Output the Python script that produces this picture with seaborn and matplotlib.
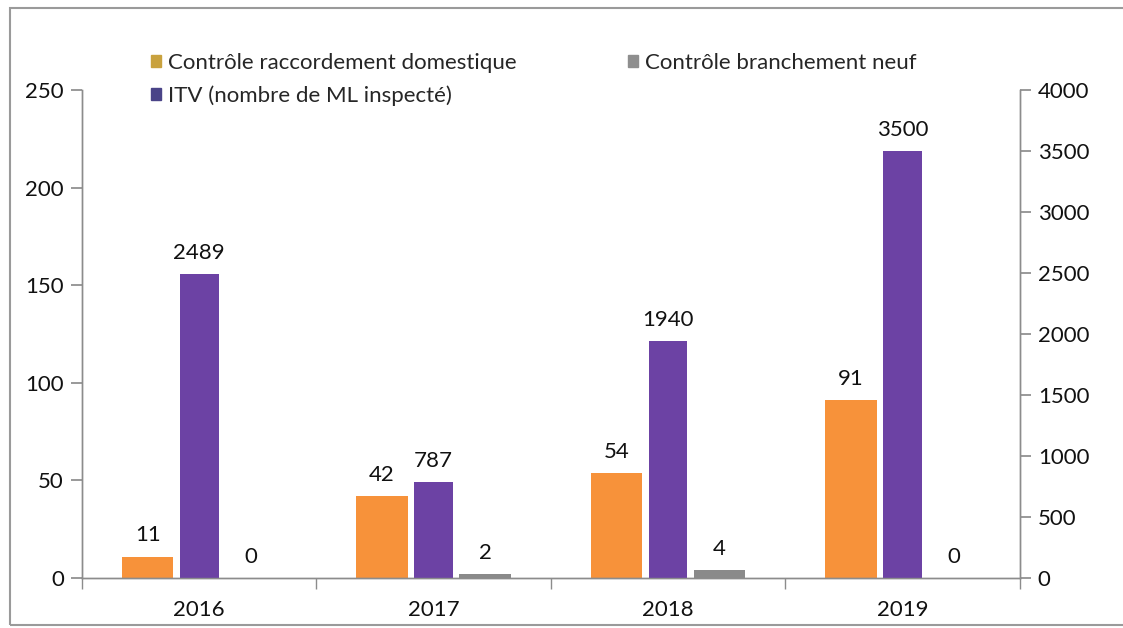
import numpy as np
import pandas as pd
import seaborn as sns
import matplotlib.pyplot as plt
from matplotlib.patches import Patch, Rectangle

# ---- data ----
years = ["2016", "2017", "2018", "2019"]
raccordement = [11, 42, 54, 91]        # left axis
branchement = [0, 2, 4, 0]             # left axis
itv = [2489, 787, 1940, 3500]          # right axis (ML inspected)

lbl_racc = "Contrôle raccordement domestique"
lbl_branch = "Contrôle branchement neuf"
lbl_itv = "ITV (nombre de ML inspecté)"

c_orange = "#F7923A"
c_purple = "#6C42A4"
c_gray = "#8A8A8A"

sns.set_theme(style="white")
plt.rcParams["font.family"] = ["Lato", "DejaVu Sans"]
FS = 16

# primary axis: orange | (empty slot for ITV) | gray
prim = pd.DataFrame({
    "year": years * 3,
    "value": raccordement + [0] * len(years) + branchement,
    "serie": [lbl_racc] * 4 + ["_itv"] * 4 + [lbl_branch] * 4,
})
sec = pd.DataFrame({"year": years, "value": itv})

fig = plt.figure(figsize=(11.23, 6.28), dpi=100)
ax = fig.add_axes([0.073, 0.0796, 0.835, 0.777])

sns.barplot(data=prim, x="year", y="value", hue="serie",
            hue_order=[lbl_racc, "_itv", lbl_branch],
            palette=[c_orange, "none", c_gray], width=0.66,
            saturation=1, legend=False, ax=ax, linewidth=0)

ax2 = ax.twinx()
sns.barplot(data=sec, x="year", y="value", color=c_purple, width=0.165,
            saturation=1, ax=ax2, linewidth=0)

ax.set_ylim(0, 250)
ax.set_yticks(np.arange(0, 251, 50))
ax2.set_ylim(0, 4000)
ax2.set_yticks(np.arange(0, 4001, 500))
for a in (ax, ax2):
    a.set_xlim(-0.5, 3.5)
    a.set_xlabel("")
    a.set_ylabel("")
    a.spines["top"].set_visible(False)
    for s in ("left", "right", "bottom"):
        a.spines[s].set_color("#8C8C8C")
        a.spines[s].set_linewidth(1)

ax.tick_params(axis="y", left=True, length=8, color="#8C8C8C",
               labelsize=FS, pad=5, labelcolor="#111111")
ax2.tick_params(axis="y", right=True, length=8, color="#8C8C8C",
                labelsize=FS, pad=5, labelcolor="#111111")
ax.tick_params(axis="x", bottom=False, labelsize=FS, pad=10,
               labelcolor="#111111")
ax.set_xticks(range(len(years)))
ax.set_xticklabels(years)
ax.set_xticks(np.arange(-0.5, 4.0, 1.0), minor=True)
ax.tick_params(axis="x", which="minor", bottom=True, length=8,
               color="#8C8C8C")
ax2.tick_params(axis="x", bottom=False, top=False)

# value labels
off = 0.22
for i in range(len(years)):
    ax.annotate(str(raccordement[i]), (i - off, raccordement[i]),
                xytext=(0, 8), textcoords="offset points",
                ha="center", va="bottom", fontsize=FS, color="#111111")
    ax.annotate(str(branchement[i]), (i + off, branchement[i]),
                xytext=(0, 8), textcoords="offset points",
                ha="center", va="bottom", fontsize=FS, color="#111111")
    ax2.annotate(str(itv[i]), (i, itv[i]),
                 xytext=(0, 8), textcoords="offset points",
                 ha="center", va="bottom", fontsize=FS, color="#111111")

handles = [Patch(color="#C9A23E", label=lbl_racc),
           Patch(color="#4A4488", label=lbl_itv),
           Patch(color="#8E8E8E", label=lbl_branch)]
fig.legend(handles=handles, ncol=2, loc="upper left",
           bbox_to_anchor=(0.121, 0.94), frameon=False, fontsize=FS,
           handlelength=0.45, handleheight=0.45, handletextpad=0.3,
           columnspacing=5.0, labelspacing=0.55, borderpad=0.2)

# outer frame of the chart picture
fig.patches.append(Rectangle((0.009, 0.005), 1.2, 0.982,
                             transform=fig.transFigure, fill=False,
                             edgecolor="#9A9A9A", linewidth=1.5))

fig.savefig("out.png", dpi=100)
